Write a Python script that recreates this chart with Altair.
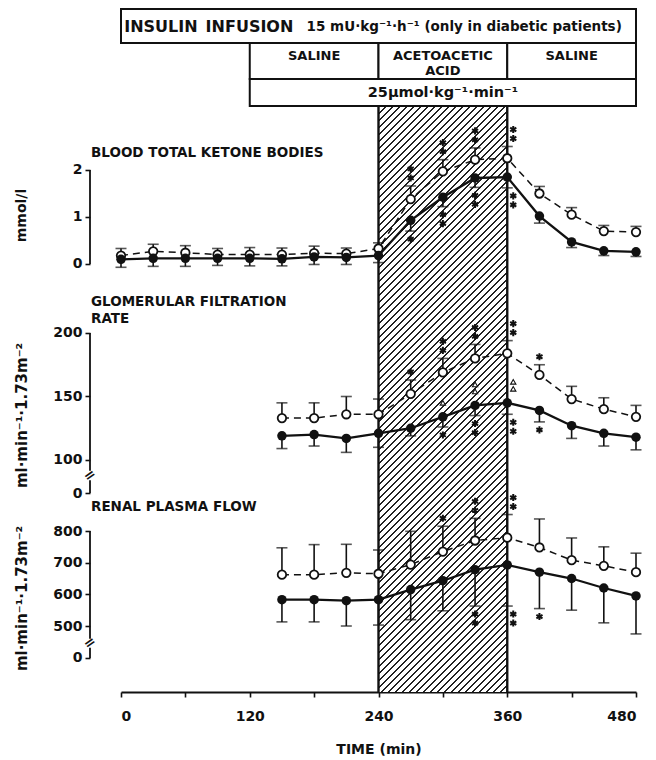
import math
import altair as alt
import pandas as pd

# ---------------- data ----------------
TIMES = [0, 30, 60, 90, 120, 150, 180, 210, 240, 270, 300, 330, 360, 390, 420, 450, 480]
KET_OPEN = [0.18, 0.27, 0.24, 0.20, 0.20, 0.20, 0.23, 0.22, 0.33, 1.38, 1.97, 2.22, 2.25, 1.50, 1.05, 0.70, 0.68]
KET_OPEN_SE = [0.15, 0.15, 0.15, 0.13, 0.15, 0.14, 0.15, 0.12, 0.12, 0.28, 0.25, 0.25, 0.25, 0.15, 0.15, 0.12, 0.12]
KET_CLOSED = [0.10, 0.12, 0.12, 0.12, 0.12, 0.11, 0.15, 0.14, 0.18, 0.93, 1.42, 1.83, 1.85, 1.02, 0.47, 0.28, 0.26]
KET_CLOSED_SE = [0.17, 0.17, 0.17, 0.15, 0.16, 0.15, 0.16, 0.15, 0.15, 0.23, 0.20, 0.20, 0.23, 0.15, 0.12, 0.10, 0.10]

RENAL_TIMES = [150, 180, 210, 240, 270, 300, 330, 360, 390, 420, 450, 480]
GFR_OPEN = [133, 133, 136, 136, 152, 169, 180, 184, 167, 148, 140, 134]
GFR_OPEN_SE = [12, 12, 14, 12, 11, 11, 11, 10, 8, 10, 9, 9]
GFR_CLOSED = [119, 120, 117, 121, 125, 134, 143, 145, 139, 127, 121, 118]
GFR_CLOSED_SE = [10, 9, 11, 11, 6, 8, 8, 9, 9, 10, 10, 10]

RPF_OPEN = [662, 662, 668, 665, 694, 735, 770, 779, 748, 708, 690, 670]
RPF_OPEN_SE = [85, 95, 90, 75, 105, 80, 70, 73, 90, 70, 60, 60]
RPF_CLOSED = [583, 583, 580, 583, 615, 643, 678, 693, 670, 650, 620, 595]
RPF_CLOSED_SE = [70, 70, 80, 80, 95, 95, 115, 130, 115, 100, 110, 120]

# significance marks: time -> number of stars
KET_OPEN_STARS = {270: 2, 300: 2, 330: 2, 360: 2}
KET_CLOSED_STARS = {270: 1, 300: 2, 330: 2, 360: 2}
GFR_OPEN_STARS = {270: 1, 300: 2, 330: 2, 360: 2, 390: 1}
GFR_CLOSED_STARS = {300: 1, 330: 2, 360: 2, 390: 1}
GFR_TRIANGLES = {300: 1, 330: 2, 360: 2}
RPF_OPEN_STARS = {300: 1, 330: 2, 360: 2}
RPF_CLOSED_STARS = {330: 2, 360: 2, 390: 1}

# header table
HEAD_ROW1 = [(0, 480)]
HEAD_ROW2 = [(120, 240), (240, 360), (360, 480)]
HEAD_ROW3 = [(120, 480)]
INFUSION_PERIOD = (240, 360)

KET_TICKS = [0, 1, 2]
GFR_TICKS = [100, 150, 200]
RPF_TICKS = [500, 600, 700, 800]
X_TICKS = [0, 60, 120, 180, 240, 300, 360, 420, 480]

# ---------------- layout / style ----------------
INK = "#111111"
FONT = "DejaVu Sans"
W = 515
PXM = W / 480.0
H_HEAD, H_KET, H_GFR, H_RPF = 98, 174, 219, 192
TOP_KET, TOP_GFR, TOP_RPF = 0, H_KET, H_KET + H_GFR
KET_DOM = [-0.3617, 3.3404]
GFR_DOM = [68.5, 240.94]
RPF_DOM = [291.6, 897.9]
AX_OFF = 31

XS = alt.Scale(domain=[0, 480], nice=False, zero=False)


def xenc(field, axis=None):
    if axis is None:
        return alt.X(field, type="quantitative", scale=XS, axis=None)
    return alt.X(field, type="quantitative", scale=XS, axis=axis)


def hatch_gradient(h, top):
    w = 120 * PXM
    P, L = 7.0, 1.5
    S = w + h
    stops = [alt.GradientStop(offset=0, color="white")]
    k0 = math.floor((top - L) / P) - 1
    k1 = math.ceil((top + S + L) / P) + 1
    for k in range(k0, k1 + 1):
        c = k * P - top
        s = (c - L / 2) / S
        e = (c + L / 2) / S
        if e <= 0 or s >= 1:
            continue
        s = round(max(s, 0.0), 5)
        e = round(min(e, 1.0), 5)
        stops += [alt.GradientStop(offset=s, color="white"),
                  alt.GradientStop(offset=s, color="#222222"),
                  alt.GradientStop(offset=e, color="#222222"),
                  alt.GradientStop(offset=e, color="white")]
    stops.append(alt.GradientStop(offset=1, color="white"))
    den = w * w + h * h
    return alt.LinearGradient(gradient="linear", stops=stops, x1=0, y1=0,
                              x2=round(w * S / den, 5), y2=round(h * S / den, 5))


def series_df(times, o, ose, c, cse):
    rows = []
    for t, v, e in zip(times, o, ose):
        rows.append(dict(t=t, v=v, lo=v, hi=v + e, cap=v + e, g="open"))
    for t, v, e in zip(times, c, cse):
        rows.append(dict(t=t, v=v, lo=v - e, hi=v, cap=v - e, g="closed"))
    return pd.DataFrame(rows)


def panel(times, o, ose, c, cse, dom, h, top, ticks, fake0, segs, breaks,
          title, title_y, ytitle, ytitle_y, ytitle_size, stars_o, stars_c,
          tris=None, xaxis=None):
    ppu = h / (dom[1] - dom[0])
    ys = alt.Scale(domain=dom, nice=False, zero=False)
    axkw = dict(values=ticks + ([fake0] if fake0 is not None else []),
                domain=False, grid=False, offset=AX_OFF, tickSize=5, tickWidth=1.6,
                tickColor=INK, labelFont=FONT, labelFontWeight="bold", labelFontSize=14,
                labelPadding=3, labelColor=INK, labelOverlap=False, labelFlush=False,
                title=ytitle, titleFont=FONT, titleFontSize=ytitle_size,
                titleFontWeight="bold", titleColor=INK, titleX=-69, titleY=ytitle_y,
                titleAngle=270, titleBaseline="middle", titleAlign="center")
    if fake0 is not None:
        axkw["labelExpr"] = "datum.value < %g ? '0' : datum.label" % (ticks[0] - 1)
    yax = alt.Axis(**axkw)

    def yenc(field):
        return alt.Y(field, type="quantitative", scale=ys, axis=yax)

    df = series_df(times, o, ose, c, cse)
    dfo = df[df.g == "open"]
    dfc = df[df.g == "closed"]
    lookup_o = dict(zip(times, zip(o, ose)))
    lookup_c = dict(zip(times, zip(c, cse)))

    star_rows = []
    for t, n in stars_o.items():
        v, e = lookup_o[t]
        for k in range(n):
            star_rows.append(dict(t=t + (6 / PXM if t == 360 else 0),
                                  y=v + e + (8 + 9 * k) / ppu))
    for t, n in stars_c.items():
        v, e = lookup_c[t]
        for k in range(n):
            star_rows.append(dict(t=t + (6 / PXM if t == 360 else 0),
                                  y=v - e - (8 + 9 * k) / ppu))
    stars = pd.DataFrame(star_rows)

    hatch = pd.DataFrame({"t0": [INFUSION_PERIOD[0]], "t1": [INFUSION_PERIOD[1]]})
    edges = pd.DataFrame({"t": list(INFUSION_PERIOD)})

    layers = []
    layers.append(alt.Chart(hatch).mark_rect(fill=hatch_gradient(h, top), strokeWidth=0)
                  .encode(x=xenc("t0", xaxis), x2="t1", y=alt.value(0), y2=alt.value(h)))
    layers.append(alt.Chart(edges).mark_rule(color=INK, strokeWidth=2.4)
                  .encode(x=xenc("t", xaxis), y=alt.value(0), y2=alt.value(h)))
    # axis line segments
    seg_df = pd.DataFrame({"a": [s[0] for s in segs], "b": [s[1] for s in segs]})
    layers.append(alt.Chart(seg_df).mark_rule(color=INK, strokeWidth=1.8)
                  .encode(x=alt.value(-AX_OFF), y=yenc("a"), y2="b"))
    if breaks:
        bdf = pd.DataFrame({"yb": breaks})
        layers.append(alt.Chart(bdf).mark_text(text="=", angle=325, fontSize=14,
                                                fontWeight="bold", font=FONT, color=INK)
                      .encode(x=alt.value(-AX_OFF), y=yenc("yb")))
    layers.append(alt.Chart(dfo).mark_line(color=INK, strokeWidth=1.5, strokeDash=[7, 5])
                  .encode(x=xenc("t", xaxis), y=yenc("v")))
    layers.append(alt.Chart(dfc).mark_line(color=INK, strokeWidth=2.3)
                  .encode(x=xenc("t", xaxis), y=yenc("v")))
    layers.append(alt.Chart(df).mark_rule(color=INK, strokeWidth=1.6)
                  .encode(x=xenc("t", xaxis), y=yenc("lo"), y2="hi"))
    layers.append(alt.Chart(df).mark_tick(orient="horizontal", size=11, thickness=1.6, color=INK)
                  .encode(x=xenc("t", xaxis), y=yenc("cap")))
    layers.append(alt.Chart(dfo).mark_point(shape="circle", filled=True, fill="white",
                                            stroke=INK, strokeWidth=1.8, size=72, opacity=1)
                  .encode(x=xenc("t", xaxis), y=yenc("v")))
    layers.append(alt.Chart(dfc).mark_circle(size=90, color=INK, opacity=1)
                  .encode(x=xenc("t", xaxis), y=yenc("v")))
    layers.append(alt.Chart(stars).mark_point(
        shape="M0,-1L0,1M-0.87,-0.5L0.87,0.5M-0.87,0.5L0.87,-0.5",
        size=50, strokeWidth=2, color=INK, filled=False, opacity=1)
        .encode(x=xenc("t", xaxis), y=yenc("y")))
    if tris:
        tri_rows = []
        for t, n in tris.items():
            v, e = lookup_c[t]
            for k in range(n):
                tri_rows.append(dict(t=t + (6 / PXM if t == 360 else 0),
                                     y=v + (14 + 7 * k) / ppu))
        layers.append(alt.Chart(pd.DataFrame(tri_rows)).mark_point(
            shape="triangle-up", size=28, filled=True, fill="white", stroke=INK,
            strokeWidth=1.1, opacity=1).encode(x=xenc("t", xaxis), y=yenc("y")))
    tdf = pd.DataFrame({"label": [title]})
    layers.append(alt.Chart(tdf).mark_text(align="left", baseline="middle", font=FONT,
                                           fontSize=13.5, fontWeight="bold", color=INK,
                                           lineBreak="\n", lineHeight=17)
                  .encode(x=alt.value(-30), y=alt.value(title_y), text="label"))
    return alt.layer(*layers).properties(width=W, height=h)


# ---------------- header ----------------
def rect_layer(rows, y0, y1):
    d = pd.DataFrame({"t0": [r[0] for r in rows], "t1": [r[1] for r in rows]})
    return (alt.Chart(d).mark_rect(fill="white", stroke=INK, strokeWidth=2)
            .encode(x=xenc("t0"), x2="t1", y=alt.value(y0), y2=alt.value(y1)))


def text_layer(t, y, label, size, align="center", weight="bold"):
    d = pd.DataFrame({"t": [t], "label": [label]})
    return (alt.Chart(d).mark_text(align=align, baseline="middle", font=FONT,
                                   fontSize=size, fontWeight=weight, color=INK)
            .encode(x=xenc("t"), y=alt.value(y), text="label"))


header = alt.layer(
    rect_layer(HEAD_ROW1, 0, 34),
    rect_layer(HEAD_ROW2, 34, 70),
    rect_layer(HEAD_ROW3, 70, 97),
    text_layer(3, 18, "INSULIN\u2002INFUSION", 16, align="left"),
    text_layer(173, 18, "15 mU·kg⁻¹·h⁻¹ (only in diabetic patients)", 13.5, align="left"),
    text_layer(180, 47, "SALINE", 13),
    text_layer(300, 47, "ACETOACETIC", 13),
    text_layer(300, 62, "ACID", 13),
    text_layer(420, 47, "SALINE", 13),
    text_layer(300, 84, "25μmol·kg⁻¹·min⁻¹", 14.5),
).properties(width=W, height=H_HEAD)

ket = panel(TIMES, KET_OPEN, KET_OPEN_SE, KET_CLOSED, KET_CLOSED_SE, KET_DOM, H_KET, TOP_KET,
            KET_TICKS, None, [(0, 2)], [], "BLOOD TOTAL KETONE BODIES", 46,
            "mmol/l", 108, 14, KET_OPEN_STARS, KET_CLOSED_STARS)

gfr = panel(RENAL_TIMES, GFR_OPEN, GFR_OPEN_SE, GFR_CLOSED, GFR_CLOSED_SE, GFR_DOM, H_GFR,
            TOP_GFR, GFR_TICKS, 74.0, [(91.5, 200), (74.0, 84.0)], [87.8],
            "GLOMERULAR FILTRATION\nRATE", 21, "ml·min⁻¹·1.73m⁻²", 134, 15,
            GFR_OPEN_STARS, GFR_CLOSED_STARS, tris=GFR_TRIANGLES)

x_axis = alt.Axis(values=X_TICKS, labelExpr="datum.value % 120 == 0 ? datum.label : ''",
                  domainWidth=2.2, domainColor=INK, tickSize=5, tickWidth=1.6, tickColor=INK,
                  grid=False, labelFont=FONT, labelFontWeight="bold", labelFontSize=14,
                  labelColor=INK, labelPadding=12, title="TIME (min)", titleFont=FONT,
                  titleFontSize=14, titleFontWeight="bold", titleColor=INK, titlePadding=19)

rpf = panel(RENAL_TIMES, RPF_OPEN, RPF_OPEN_SE, RPF_CLOSED, RPF_CLOSED_SE, RPF_DOM, H_RPF,
            TOP_RPF, RPF_TICKS, 399.0, [(460, 800), (399.0, 431)], [446],
            "RENAL PLASMA FLOW", 7, "ml·min⁻¹·1.73m⁻²", 98, 15,
            RPF_OPEN_STARS, RPF_CLOSED_STARS, xaxis=x_axis)

chart = (alt.vconcat(header, ket, gfr, rpf, spacing=0, bounds="flush")
         .properties(padding={"left": 6, "top": 0, "right": 4, "bottom": 2})
         .configure(background="white")
         .configure_view(stroke=None))

chart.save("out.html", embed_options={"renderer": "svg", "actions": False})
